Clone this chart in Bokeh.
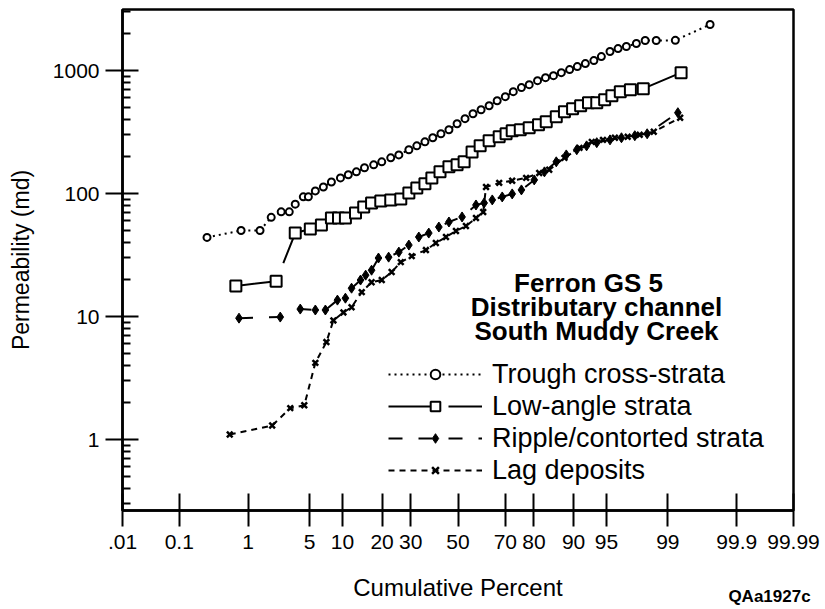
from statistics import NormalDist
from math import log10
from bokeh.plotting import figure
from bokeh.models import FixedTicker, Label, Legend, LegendItem, Range1d, LinearAxis
from bokeh.embed import file_html
from bokeh.resources import INLINE

# ---------------- data (cumulative percent, permeability in md) ----------------
trough_pct = [0.27, 0.81, 1.41, 1.92, 2.5, 3.07, 3.56, 4.32, 4.86, 5.69, 6.78, 8.03, 9.63,
              11.2, 13.0, 15.0, 17.5, 19.9, 22.8, 25.6, 29.3, 32.4, 35.7, 39.0, 42.5, 46.0,
              49.6, 53.1, 56.6, 60.1, 63.5, 66.8, 70.0, 73.0, 75.9, 78.5, 81.1, 83.4, 85.5,
              87.4, 89.2, 90.7, 92.1, 93.4, 94.4, 95.4, 96.2, 96.9, 97.6, 98.1, 98.6, 99.2, 99.74]
trough_perm = [44, 50, 50, 64, 71, 71, 82, 94, 94, 105, 113, 124, 134,
               142, 150, 162, 171, 181, 195, 206, 227, 244, 263, 284, 306, 330,
               369, 406, 445, 480, 517, 568, 613, 673, 726, 767, 827, 875, 908,
               961, 1017, 1076, 1138, 1204, 1298, 1426, 1508, 1566, 1657, 1753, 1753, 1760, 2366]

low_pct = [0.69, 2.19, 3.56, 5.08, 6.5, 8.03, 9.26, 10.6, 12.8, 14.8, 16.9, 19.6, 22.8, 26.3,
           29.3, 32.4, 35.7, 38.6, 42.1, 46.0, 49.6, 52.7, 56.2, 59.7, 63.5, 67.6, 70.3, 72.6,
           75.5, 78.5, 81.4, 83.6, 86.2, 88.1, 89.8, 91.3, 92.6, 93.8, 94.8, 95.6, 96.4, 97.2,
           98.0, 99.33]
low_perm = [17.7, 19.4, 47.7, 51.5, 55.5, 63.2, 63.2, 63.2, 69.5, 77.8, 83.8, 87.0, 88.7, 90.4,
            101, 111, 120, 134, 150, 165, 171, 181, 218, 244, 268, 289, 306, 324,
            330, 343, 362, 383, 421, 462, 489, 517, 547, 547, 579, 624, 673, 699,
            712, 961]

ripple_pct = [0.76, 2.44, 4.02, 5.69, 7.08, 9.07, 10.6, 11.9, 14.0, 15.3, 16.9, 18.9, 22.1,
              25.6, 29.3, 33.2, 37.3, 41.6, 46.0, 51.8, 57.9, 61.4, 64.8, 68.8, 72.6, 75.9,
              80.1, 83.1, 86.2, 88.5, 90.6, 92.3, 93.8, 95.4, 96.5, 97.5, 98.2, 99.26]
ripple_perm = [9.7, 9.9, 11.5, 11.3, 11.3, 13.6, 14.1, 17.0, 19.8, 21.7, 23.8, 29.9, 30.4,
               33.4, 38.1, 44.3, 47.7, 53.4, 58.7, 64.5, 80.7, 83.8, 88.7, 93.8, 99.3, 107,
               129, 150, 181, 206, 227, 244, 259, 273, 284, 295, 306, 454]

lag_pct = [0.57, 1.97, 3.15, 4.42, 5.69, 7.23, 8.36, 10.2, 11.9, 14.3, 16.9, 19.9, 23.1,
           26.3, 30.4, 36.1, 40.3, 44.7, 49.1, 53.5, 57.9, 61.0, 62.2, 67.6, 72.6, 77.5,
           81.6, 84.4, 88.1, 91.1, 93.1, 94.6, 95.9, 97.0, 97.8, 98.5, 99.31]
lag_perm = [1.1, 1.3, 1.8, 1.9, 4.2, 6.2, 9.3, 10.8, 11.9, 15.8, 19.0, 19.8, 23.0,
            27.7, 31.0, 34.7, 39.6, 44.3, 49.6, 54.4, 63.2, 70.8, 113, 122, 127, 134,
            147, 156, 195, 235, 263, 273, 284, 289, 300, 318, 413]

x_tick_pct = [0.01, 0.1, 1, 5, 10, 20, 30, 50, 70, 80, 90, 95, 99, 99.9, 99.99]
x_tick_labels = [".01", "0.1", "1", "5", "10", "20", "30", "50", "70", "80", "90", "95",
                 "99", "99.9", "99.99"]
y_ticks = [1, 10, 100, 1000]
y_tick_labels = ["1", "10", "100", "1000"]
y_minor = [m * d for d in (0.1, 1, 10, 100, 1000) for m in range(2, 10)]

series_names = ["Trough cross-strata", "Low-angle strata", "Ripple/contorted strata", "Lag deposits"]
title_lines = ["Ferron GS 5", "Distributary channel", "South Muddy Creek"]
figure_code = "QAa1927c"

# ---------------- probability scale ----------------
nd = NormalDist()


def probit(p):
    return round(nd.inv_cdf(p / 100.0), 6)


XLO, XHI = probit(0.01), probit(99.99)
YLO, YHI = 0.265, 3133.0

FONT = "Liberation Sans"

W, H = 825, 609
FL, FR, FT, FB = 122, 793, 9, 510   # frame edges in page pixels

p = figure(width=W, height=H, x_range=Range1d(XLO, XHI), y_range=Range1d(YLO, YHI),
           y_axis_type="log", output_backend="svg", toolbar_location=None,
           min_border_left=FL, min_border_right=W - FR, min_border_top=FT,
           min_border_bottom=H - FB,
           background_fill_color="white", border_fill_color="white")
p.grid.visible = False
p.outline_line_color = "black"
p.outline_line_width = 2.5


def sx(px):
    return XLO + (px - FL) / (FR - FL) * (XHI - XLO)


def sy(py):
    return 10 ** (log10(YLO) + (FB - py) / (FB - FT) * (log10(YHI) - log10(YLO)))


# ---------------- series ----------------
def zs(lst):
    return [probit(v) for v in lst]


tr_l = p.line(zs(trough_pct), trough_perm, line_color="black", line_width=2, line_dash="2 4")
tr_m = p.scatter(zs(trough_pct), trough_perm, marker="circle", size=7, line_color="black",
                 fill_color="white", line_width=2)

lo_l = p.line(zs(low_pct), low_perm, line_color="black", line_width=2, line_dash="45 15")
lo_m = p.scatter(zs(low_pct), low_perm, marker="square", size=11, line_color="black",
                 fill_color="white", line_width=2)

ri_l = p.line(zs(ripple_pct), ripple_perm, line_color="black", line_width=2, line_dash="14 16")
ri_m = p.scatter(zs(ripple_pct), ripple_perm, marker="diamond", size=10, line_color="black",
                 fill_color="black", line_width=1)

la_l = p.line(zs(lag_pct), lag_perm, line_color="black", line_width=2, line_dash="6 5")
la_m = p.scatter(zs(lag_pct), lag_perm, marker="x", size=8, line_color="black", line_width=2.5)

legend = Legend(items=[
    LegendItem(label=series_names[0], renderers=[tr_l, tr_m]),
    LegendItem(label=series_names[1], renderers=[lo_l, lo_m]),
    LegendItem(label=series_names[2], renderers=[ri_l, ri_m]),
    LegendItem(label=series_names[3], renderers=[la_l, la_m]),
], location=(388 - FL, FB - 486), orientation="vertical", glyph_width=94, glyph_height=24,
    label_height=32, label_standoff=10, spacing=0, padding=0, margin=0,
    border_line_color=None, background_fill_alpha=0,
    label_text_font=FONT, label_text_font_size="27px", label_text_color="black")
p.add_layout(legend)

title_x = [588, 596, 596]
for i, t in enumerate(title_lines):
    p.add_layout(Label(x=sx(title_x[i]), y=sy(282 + 24 * i), text=t, text_align="center",
                       text_baseline="alphabetic", text_font=FONT, text_font_size="26px",
                       text_font_style="bold", text_color="black"))

# ---------------- axes ----------------
xt = [probit(v) for v in x_tick_pct]
xa = p.xaxis[0]
xa.ticker = FixedTicker(ticks=xt, minor_ticks=[])
xa.major_label_overrides = {k: v for k, v in zip(xt, x_tick_labels)}
xa.axis_label = "Cumulative Percent"
xa.major_tick_in = 17
xa.major_tick_out = 16
xa.minor_tick_line_color = None
xa.major_label_standoff = 8
xa.axis_label_standoff = 22

ya = p.yaxis[0]
ya.ticker = FixedTicker(ticks=y_ticks, minor_ticks=y_minor)
ya.major_label_overrides = {float(k): v for k, v in zip(y_ticks, y_tick_labels)}
ya.axis_label = "Permeability (md)"
ya.major_tick_in = 16
ya.major_tick_out = 17
ya.minor_tick_in = 8
ya.minor_tick_out = 0
ya.major_label_standoff = 6
ya.axis_label_standoff = 16

for ax in (xa, ya):
    ax.axis_line_width = 2.5
    ax.axis_line_color = "black"
    ax.major_tick_line_width = 2
    ax.major_tick_line_color = "black"
    ax.minor_tick_line_width = 2
    ax.major_label_text_font = FONT
    ax.major_label_text_font_size = "21px"
    ax.major_label_text_color = "black"
    ax.axis_label_text_font = FONT
    ax.axis_label_text_font_style = "normal"
    ax.axis_label_text_color = "black"
xa.axis_label_text_font_size = "24px"
ya.axis_label_text_font_size = "23px"
ya.minor_tick_line_color = "black"

# figure code at the lower right (a tick-less secondary axis so it is not clipped)
zq = round(sx(769), 6)
code_axis = LinearAxis(ticker=FixedTicker(ticks=[zq], minor_ticks=[]),
                       major_label_overrides={zq: figure_code},
                       axis_line_color=None, major_tick_line_color=None,
                       minor_tick_line_color=None, major_tick_in=0, major_tick_out=0,
                       major_label_standoff=-17, major_label_text_font=FONT,
                       major_label_text_font_size="17px", major_label_text_font_style="bold",
                       major_label_text_color="black")
p.add_layout(code_axis, "below")

open("out.html", "w").write(file_html(p, INLINE))
